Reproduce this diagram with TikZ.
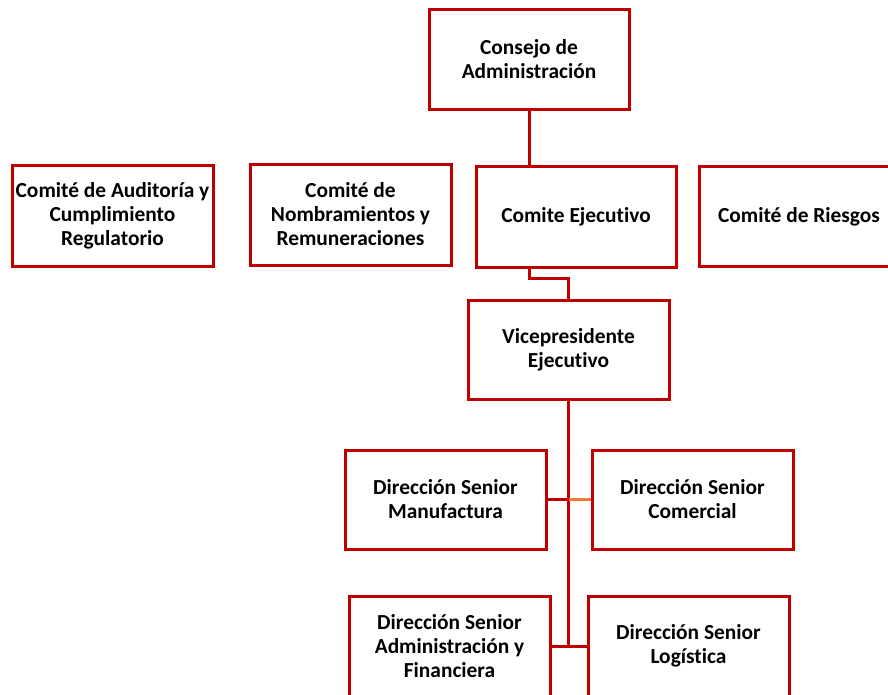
\documentclass[tikz,border=0pt]{standalone}
\usepackage{fontspec}
\setmainfont{Carlito}[Ligatures=NoCommon]
\definecolor{boxred}{HTML}{C00000}
\definecolor{linkorange}{HTML}{ED7D31}
\tikzset{
  orgbox/.style={draw=boxred, line width=3pt, minimum width=200pt, minimum height=100pt,
    align=center, font=\fontsize{21.4}{24}\selectfont\bfseries, inner sep=1pt},
  link/.style={draw=boxred, line width=3pt},
}

\begin{document}
\begin{tikzpicture}[x=1pt,y=-1pt]

%frame
\useasboundingbox (0,0) rectangle (888,694);
\clip (0,0) rectangle (888,694);

%Board
\node[orgbox] (consejo) at (529,59) {Consejo de\\Administración};

%Committees
\node[orgbox, minimum width=201pt, minimum height=101pt] (auditoria) at (112.5,215.5) {Comité de Auditoría y\\Cumplimiento\\Regulatorio};
\node[orgbox, minimum width=201pt, minimum height=101pt] (nombramientos) at (350.5,214.5) {Comité de\\Nombramientos y\\Remuneraciones};
\node[orgbox, minimum height=101pt] (ejecutivo) at (576,217) {Comite Ejecutivo};
\node[orgbox] (riesgos) at (799,216.5) {Comité de Riesgos};

%Executive
\node[orgbox, minimum width=201pt, minimum height=99pt] (vice) at (568.5,349.5) {Vicepresidente\\Ejecutivo};

%Senior directions
\node[orgbox, minimum width=201pt, minimum height=99pt] (manufactura) at (445.5,499.5) {Dirección Senior\\Manufactura};
\node[orgbox, minimum width=201pt, minimum height=99pt] (comercial) at (692.5,499.5) {Dirección Senior\\Comercial};
\node[orgbox, minimum width=201pt] (admin) at (449.5,646) {Dirección Senior\\Administración y\\Financiera};
\node[orgbox, minimum width=201pt] (logistica) at (688.5,646) {Dirección Senior\\Logística};

%Connectors
\coordinate (bend) at (529,278);
\coordinate (trunk) at (vice.south |- manufactura.east);
\coordinate (foot) at (vice.south |- admin.east);

\draw[link] (consejo.south) -- (consejo.south |- ejecutivo.north);
\draw[link] (bend |- ejecutivo.south) -- (bend) -| (vice.north);
\draw[link] (vice.south) -- (foot);
\draw[link] (manufactura.east) -- (trunk);
\draw[line width=3pt, draw=linkorange] (trunk) -- (comercial.west);
\draw[link] (admin.east) -- (logistica.west);

\end{tikzpicture}
\end{document}
